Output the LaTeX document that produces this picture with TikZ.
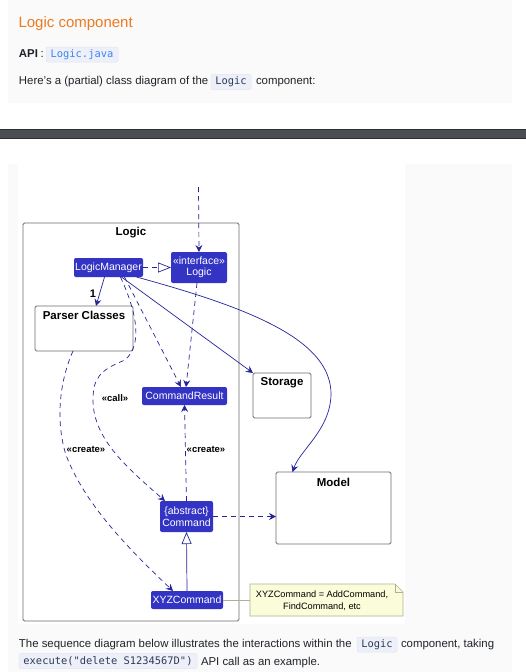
\documentclass[tikz,border=0pt]{standalone}
\usepackage{fontspec}
\setmainfont{Liberation Sans}
\newfontfamily\codefont{DejaVu Sans Mono}
\usetikzlibrary{arrows.meta}
\definecolor{panelbg}{HTML}{FAFAFB}
\definecolor{headorange}{HTML}{EE7A1E}
\definecolor{bodytext}{HTML}{1F2328}
\definecolor{codebg}{HTML}{EEF0F9}
\definecolor{codeline}{HTML}{E2E5F0}
\definecolor{linkblue}{HTML}{3A84F2}
\definecolor{codedark}{HTML}{2E3A56}
\definecolor{barfill}{HTML}{4A4E53}
\definecolor{baredge}{HTML}{2B2E31}
\definecolor{clsblue}{HTML}{3333C4}
\definecolor{arrblue}{HTML}{24249A}
\definecolor{pkgline}{HTML}{6E6E6E}
\definecolor{notefill}{HTML}{FBFCD9}
\definecolor{noteline}{HTML}{B0B090}
\begin{document}
\begin{tikzpicture}[x=1pt,y=-1pt,
  every node/.style={inner sep=0pt,outer sep=0pt},
  body/.style={font=\fontsize{11.4}{14}\selectfont,text=bodytext,anchor=base west},
  codebox/.style={fill=codebg,draw=codeline,line width=0.5pt,rounded corners=2pt,font=\codefont\fontsize{10.4}{12}\selectfont,text=codedark,minimum height=15pt},
  cls/.style={fill=clsblue,rounded corners=2pt,text=white,font=\fontsize{10.5}{11.5}\selectfont,align=center},
  box/.style={draw=pkgline,line width=0.8pt,fill=white,rounded corners=1.5pt},
  ttl/.style={font=\bfseries\fontsize{11.5}{13}\selectfont,anchor=base},
  stereo/.style={font=\bfseries\fontsize{9.5}{11}\selectfont,anchor=base},
  tip/.style={-{Stealth[length=7pt,width=7pt,inset=2.5pt]}},
  dep/.style={draw=arrblue,line width=0.7pt,dash pattern=on 5pt off 4pt,tip},
  assoc/.style={draw=arrblue,line width=0.7pt,tip},
  notestyle/.style={fill=notefill,draw=noteline,line width=0.7pt},
]
\useasboundingbox (0,0) rectangle (526,672);
\fill[white] (0,0) rectangle (526,672);
% page panels
\fill[panelbg] (8,0) rectangle (512,103);
\fill[barfill] (0,129) rectangle (526,139);
\draw[baredge,line width=0.8pt] (0,129.4) -- (526,129.4);
\draw[baredge,line width=0.8pt] (0,138.6) -- (526,138.6);
\fill[panelbg] (8,164) rectangle (512,672);
\fill[white] (18,164) rectangle (405,624);

% page text
\node[font=\fontsize{15}{18}\selectfont,text=headorange,anchor=base west] (head) at (18.5,27) {Logic component};
\node[body,font=\bfseries\fontsize{11.4}{14}\selectfont] (api) at (19,57.5) {API};
\node[body] (colon) at (40.5,57.5) {:};
\node[codebox,text=linkblue,minimum width=72pt] (apicode) at (82,54.5) {Logic.java};
\node[body] (l3a) at (19,84) {Here's a (partial) class diagram of the};
\node[codebox,minimum width=40pt] (l3code) at (231,82) {Logic};
\node[body] (l3b) at (256,84) {component:};

\node[body] (b1a) at (19,647) {The sequence diagram below illustrates the interactions within the};
\node[codebox,minimum width=40pt] (b1code) at (377,644.5) {Logic};
\node[body] (b1b) at (401,647) {component, taking};
\node[codebox,minimum width=178pt] (b2code) at (108,661) {execute("delete S1234567D")};
\node[body] (b2b) at (201,665) {API call as an example.};

% diagram
\node[box,fill=none,minimum width=216pt,minimum height=398pt] (pkg) at (131,422) {};
\node[ttl] (pkgtitle) at (131,235) {Logic};

\node[cls,minimum width=69pt,minimum height=19pt] (lm) at (108.5,267.5) {LogicManager};
\node[cls,minimum width=56pt,minimum height=31pt] (logic) at (199,267.5) {«interface»\\Logic};
\node[box,minimum width=98pt,minimum height=45pt] (parser) at (84,328.5) {};
\node[ttl] (parsert) at (84,319) {Parser Classes};
\node[cls,minimum width=85pt,minimum height=18pt] (cr) at (184.5,396) {CommandResult};
\node[box,minimum width=58pt,minimum height=45pt] (storage) at (282,395.5) {};
\node[ttl] (storaget) at (282,385) {Storage};
\node[box,minimum width=115pt,minimum height=72pt] (model) at (333.5,508) {};
\node[ttl] (modelt) at (333.5,486) {Model};
\node[cls,minimum width=53pt,minimum height=31pt] (cmd) at (186.5,516.5) {\{abstract\}\\Command};
\node[cls,minimum width=72pt,minimum height=18pt] (xyz) at (187,600) {XYZCommand};
\node[minimum width=153pt,minimum height=32pt] (note) at (326.5,600) {};
\filldraw[notestyle] (note.north west) -- ([xshift=-8pt]note.north east) -- ([yshift=-8pt]note.north east) -- (note.south east) -- (note.south west) -- cycle;
\draw[noteline,line width=0.7pt] ([xshift=-8pt]note.north east) -- ([xshift=-8pt,yshift=-8pt]note.north east) -- ([yshift=-8pt]note.north east);
\node[font=\fontsize{9.2}{12}\selectfont,align=center] (notetext) at (322,601) {XYZCommand = AddCommand,\\FindCommand, etc};

% connectors
\coordinate (topin) at (198.5,187);
\draw[dep] (topin) -- (logic.north);
\draw[draw=arrblue,line width=0.7pt,dash pattern=on 5pt off 4pt,-{Triangle[fill=white,length=13pt,width=10pt]}] (lm.east) -- (logic.west);
\draw[assoc] ([xshift=-4pt]lm.south) -- ([xshift=12pt]parser.north);
\node[font=\bfseries\fontsize{11}{12}\selectfont,anchor=base] (one) at (93,297) {1};
\draw[assoc] ([xshift=13pt]lm.south) -- (storage.north west);
\draw[assoc] ([xshift=28pt]lm.south) .. controls (250,308) and (332,340) .. (331,395) .. controls (330,430) and (300,450) .. ([xshift=-41pt]model.north);
\draw[dep] ([xshift=16pt]lm.south) -- ([xshift=-3.5pt]cr.north);
\draw[dep] ([xshift=-2pt]logic.south) -- ([xshift=1.5pt]cr.north);
\draw[dep] ([xshift=12pt]lm.south) .. controls (138,315) and (142,345) .. (125,360) .. controls (100,370) and (93,378) .. (93,400) .. controls (93,440) and (130,470) .. ([xshift=5pt]cmd.north west);
\node[stereo] (calllbl) at (115,401) {«call»};
\draw[dep] ([xshift=-11pt]parser.south) .. controls (60,380) and (55,420) .. (66,455) .. controls (85,505) and (130,550) .. ([xshift=-14pt]xyz.north);
\node[stereo] (create1) at (86,452) {«create»};
\draw[dep] (cmd.north) -- (cr.south);
\node[stereo] (create2) at (206,452) {«create»};
\draw[dep] (cmd.east) -- (model.west |- cmd.east);
\draw[draw=arrblue,line width=0.7pt,-{Triangle[fill=white,length=12pt,width=10pt]}] (xyz.north) -- (cmd.south);
\draw[noteline,line width=0.7pt] (xyz.east) -- (note.west);
\end{tikzpicture}
\end{document}
